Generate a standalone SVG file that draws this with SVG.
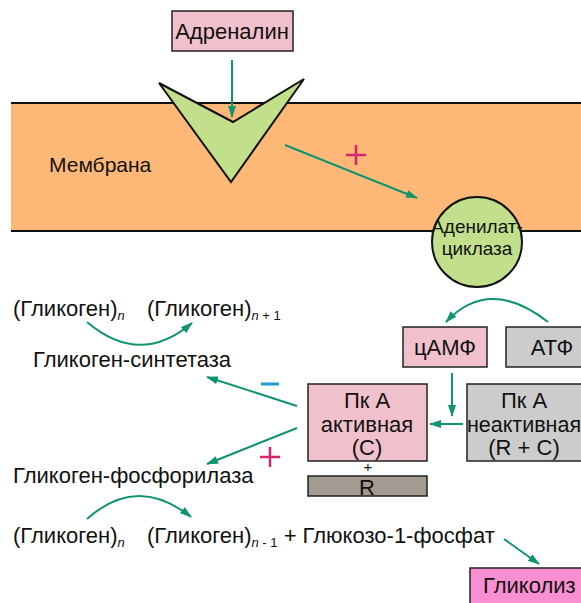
<svg xmlns="http://www.w3.org/2000/svg" width="581" height="603" viewBox="0 0 581 603">
<defs>
<style>
text{font-family:"Liberation Sans",Arial,sans-serif;font-size:22px;fill:#111}
.c{text-anchor:middle}
.sm{font-size:19px}
.sub{font-size:13px;font-style:italic}
.subn{font-size:13px}
.box{stroke:#222;stroke-width:1.5}
.pink{fill:#F0C0CB}
.gray{fill:#CCCCCC}
.arr{fill:none;stroke:#0F9470;stroke-width:2;marker-end:url(#ah)}
</style>
<marker id="ah" viewBox="0 0 12 8" refX="11" refY="4" markerWidth="12" markerHeight="8" markerUnits="userSpaceOnUse" orient="auto">
<path d="M0,0 L12,4 L0,8 Z" fill="#0F9470"/>
</marker>
</defs>
<rect width="581" height="603" fill="#fff"/>

<g id="membrane">
<rect x="11" y="103" width="575" height="128" fill="#FDB877"/>
<line x1="11" y1="103" x2="581" y2="103" stroke="#111" stroke-width="2"/>
<line x1="11" y1="231" x2="581" y2="231" stroke="#111" stroke-width="2"/>
<text x="49" y="172" style="font-size:21px">Мембрана</text>
</g>

<g id="adrenalin">
<rect class="box pink" x="172" y="11" width="121" height="40"/>
<text class="c" x="232" y="39">Адреналин</text>
</g>

<g id="receptor">
<polygon points="159,83 233,122 304,79 231,182" fill="#C2E08C" stroke="#111" stroke-width="2" stroke-linejoin="miter"/>
</g>

<g id="adenylate-cyclase">
<circle cx="477" cy="242" r="45" fill="#C2E08C" stroke="#111" stroke-width="2"/>
<text class="c sm" x="477" y="233">Аденилат-</text>
<text class="c sm" x="477" y="255">циклаза</text>
</g>

<g id="camp">
<rect class="box pink" x="403" y="327" width="84" height="40"/>
<text class="c" x="445" y="355">цАМФ</text>
</g>

<g id="atp">
<rect class="box gray" x="506" y="327" width="90" height="40"/>
<text class="c" x="552" y="355">АТФ</text>
</g>

<g id="pka-active">
<rect class="box pink" x="308" y="384" width="119" height="77"/>
<text class="c" x="367" y="408">Пк А</text>
<text class="c" x="367" y="432">активная</text>
<text class="c" x="367" y="455">(C)</text>
<text class="c" x="368" y="472" style="font-size:15px">+</text>
</g>

<g id="r-subunit">
<rect class="box" x="308" y="476" width="119" height="20" fill="#A39B91"/>
<text class="c" x="367" y="495">R</text>
</g>

<g id="pka-inactive">
<rect class="box gray" x="467" y="384" width="130" height="77"/>
<text class="c" x="524" y="408">Пк А</text>
<text class="c" x="524" y="432" style="font-size:21.5px">неактивная</text>
<text class="c" x="524" y="455">(R + C)</text>
</g>

<g id="glycogen-synthesis">
<text x="13" y="316">(Гликоген)<tspan class="sub" dy="4">n</tspan></text>
<text x="147" y="316">(Гликоген)<tspan class="sub" dy="4">n</tspan><tspan class="subn"> + 1</tspan></text>
<text x="33" y="367">Гликоген-синтетаза</text>
</g>

<g id="glycogen-breakdown">
<text x="13" y="483">Гликоген-фосфорилаза</text>
<text x="13" y="543">(Гликоген)<tspan class="sub" dy="4">n</tspan></text>
<text x="147" y="543">(Гликоген)<tspan class="sub" dy="4">n</tspan><tspan class="subn"> - 1</tspan><tspan dy="-4"> + Глюкозо-1-фосфат</tspan></text>
</g>

<g id="glycolysis">
<rect class="box" x="470" y="568" width="125" height="45" fill="#F98FD0"/>
<text x="483" y="593">Гликолиз</text>
</g>

<g id="connectors">
<line class="arr" x1="232" y1="60" x2="232" y2="117"/>
<line class="arr" x1="285" y1="145" x2="417" y2="198"/>
<path class="arr" d="M548,322 Q489,276 446,322"/>
<line class="arr" x1="452" y1="373" x2="452" y2="416"/>
<line class="arr" x1="463" y1="424" x2="430" y2="424"/>
<line class="arr" x1="297" y1="406" x2="207" y2="377"/>
<line class="arr" x1="297" y1="428" x2="207" y2="464"/>
<path class="arr" d="M87,322 Q140,367 192,323"/>
<path class="arr" d="M87,519 Q137,474 191,517"/>
<line class="arr" x1="504" y1="539" x2="539" y2="564"/>
</g>

<g id="signs">
<path d="M346,155 H366 M356,145 V165" stroke="#D8246C" stroke-width="2.5"/>
<path d="M261,384 H279" stroke="#1E9AD6" stroke-width="3"/>
<path d="M260,457 H280 M270,447 V467" stroke="#D8246C" stroke-width="2.5"/>
</g>
</svg>
